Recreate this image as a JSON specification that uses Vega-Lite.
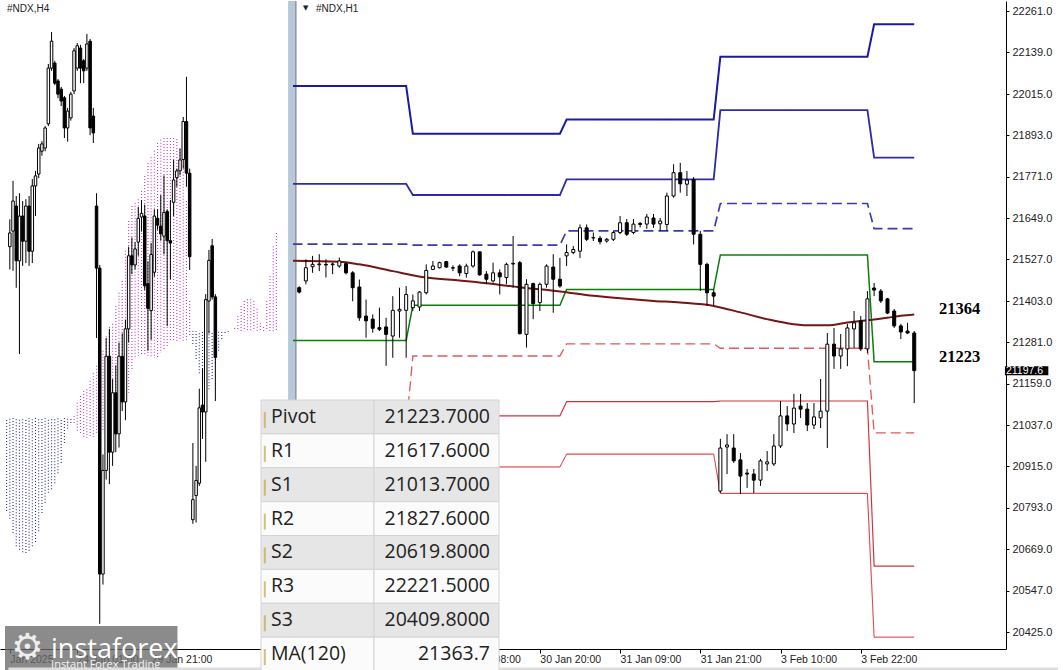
{
  "$schema": "https://vega.github.io/schema/vega-lite/v6.json",
  "padding": 0,
  "background": "white",
  "spacing": 10,
  "bounds": "flush",
  "config": {"view": {"stroke": null}, "axis": {"grid": false, "title": null}},
  "datasets": {
    "h4": [
      {"s":0,"o":21440,"h":21500,"l":21390,"c":21470},
      {"s":1,"o":21474,"h":21584,"l":21387,"c":21540},
      {"s":2,"o":21529,"h":21551,"l":21350,"c":21409},
      {"s":3,"o":21409,"h":21557,"l":21205,"c":21507},
      {"s":4,"o":21507,"h":21540,"l":21398,"c":21452},
      {"s":5,"o":21452,"h":21544,"l":21404,"c":21529},
      {"s":6,"o":21529,"h":21551,"l":21398,"c":21430},
      {"s":7,"o":21430,"h":21588,"l":21404,"c":21573},
      {"s":8,"o":21573,"h":21606,"l":21507,"c":21595},
      {"s":9,"o":21599,"h":21665,"l":21590,"c":21656},
      {"s":10,"o":21649,"h":21671,"l":21639,"c":21665},
      {"s":11,"o":21656,"h":21704,"l":21649,"c":21700},
      {"s":12,"o":21709,"h":21840,"l":21704,"c":21831},
      {"s":13,"o":21831,"h":21910,"l":21825,"c":21890},
      {"s":14,"o":21842,"h":21847,"l":21794,"c":21798},
      {"s":15,"o":21803,"h":21807,"l":21765,"c":21774},
      {"s":16,"o":21785,"h":21790,"l":21748,"c":21759},
      {"s":17,"o":21766,"h":21770,"l":21678,"c":21700},
      {"s":18,"o":21700,"h":21744,"l":21670,"c":21737},
      {"s":19,"o":21722,"h":21779,"l":21716,"c":21774},
      {"s":20,"o":21781,"h":21875,"l":21774,"c":21869},
      {"s":21,"o":21831,"h":21886,"l":21825,"c":21880},
      {"s":22,"o":21875,"h":21882,"l":21798,"c":21831},
      {"s":23,"o":21847,"h":21851,"l":21798,"c":21825},
      {"s":24,"o":21831,"h":21906,"l":21825,"c":21884},
      {"s":25,"o":21890,"h":21895,"l":21684,"c":21700},
      {"s":26,"o":21726,"h":21744,"l":21667,"c":21689},
      {"s":27,"o":21529,"h":21557,"l":21240,"c":21393},
      {"s":28,"o":21393,"h":21400,"l":20614,"c":20723},
      {"s":29,"o":20723,"h":20985,"l":20700,"c":20950},
      {"s":30,"o":20950,"h":21240,"l":20930,"c":21200},
      {"s":31,"o":21200,"h":21260,"l":20920,"c":20990},
      {"s":32,"o":20990,"h":21150,"l":20960,"c":21120},
      {"s":33,"o":21120,"h":21180,"l":20990,"c":21030},
      {"s":34,"o":21030,"h":21230,"l":21000,"c":21200},
      {"s":35,"o":21200,"h":21250,"l":21080,"c":21100},
      {"s":36,"o":21100,"h":21280,"l":21060,"c":21260},
      {"s":37,"o":21260,"h":21440,"l":21230,"c":21420},
      {"s":38,"o":21420,"h":21460,"l":21380,"c":21400},
      {"s":39,"o":21400,"h":21450,"l":21390,"c":21435},
      {"s":40,"o":21450,"h":21527,"l":21420,"c":21502},
      {"s":41,"o":21505,"h":21542,"l":21473,"c":21513},
      {"s":42,"o":21507,"h":21532,"l":21345,"c":21354},
      {"s":43,"o":21359,"h":21408,"l":21212,"c":21305},
      {"s":44,"o":21300,"h":21448,"l":21236,"c":21423},
      {"s":45,"o":21384,"h":21522,"l":21374,"c":21507},
      {"s":46,"o":21502,"h":21522,"l":21477,"c":21487},
      {"s":47,"o":21485,"h":21553,"l":21453,"c":21468},
      {"s":48,"o":21463,"h":21596,"l":21423,"c":21515},
      {"s":49,"o":21517,"h":21522,"l":21266,"c":21453},
      {"s":50,"o":21453,"h":21542,"l":21369,"c":21448},
      {"s":51,"o":21537,"h":21630,"l":21507,"c":21586},
      {"s":52,"o":21591,"h":21611,"l":21571,"c":21606},
      {"s":53,"o":21606,"h":21655,"l":21596,"c":21630},
      {"s":54,"o":21631,"h":21724,"l":21611,"c":21714},
      {"s":55,"o":21714,"h":21812,"l":21571,"c":21601},
      {"s":56,"o":21601,"h":21611,"l":21389,"c":21418},
      {"s":57,"o":20842,"h":21010,"l":20833,"c":20886},
      {"s":58,"o":20895,"h":20960,"l":20836,"c":20928},
      {"s":59,"o":20922,"h":21129,"l":20916,"c":21087},
      {"s":60,"o":21093,"h":21173,"l":21019,"c":21078},
      {"s":61,"o":21078,"h":21336,"l":20969,"c":21324},
      {"s":62,"o":21321,"h":21433,"l":21250,"c":21410},
      {"s":63,"o":21442,"h":21457,"l":21324,"c":21330},
      {"s":64,"o":21330,"h":21336,"l":21102,"c":21197.6}
    ],
    "cloud": [
      {"s":-1,"a":20861,"b":21065},{"s":0,"a":20844,"b":21065},{"s":1,"a":20813,"b":21065},{"s":2,"a":20784,"b":21065},
      {"s":3,"a":20776,"b":21065},{"s":4,"a":20771,"b":21065},{"s":5,"a":20769,"b":21065},{"s":6,"a":20774,"b":21065},
      {"s":7,"a":20784,"b":21065},{"s":8,"a":20793,"b":21065},{"s":9,"a":20817,"b":21065},{"s":10,"a":20857,"b":21065},
      {"s":11,"a":20879,"b":21065},{"s":12,"a":20901,"b":21065},{"s":13,"a":20909,"b":21065},{"s":14,"a":20922,"b":21065},
      {"s":15,"a":20944,"b":21065},{"s":16,"a":20966,"b":21065},{"s":17,"a":21010,"b":21065},{"s":18,"a":21041,"b":21065},
      {"s":19,"a":21054,"b":21063},{"s":20,"a":21069,"b":21054},{"s":21,"a":21098,"b":21036},{"s":22,"a":21113,"b":21028},
      {"s":23,"a":21124,"b":21021},{"s":24,"a":21128,"b":21021},{"s":25,"a":21146,"b":21021},{"s":26,"a":21163,"b":21023},
      {"s":27,"a":21179,"b":21028},{"s":28,"a":21194,"b":21030},{"s":29,"a":21212,"b":21036},{"s":30,"a":21244,"b":21041},
      {"s":31,"a":21264,"b":21047},{"s":32,"a":21271,"b":21058},{"s":33,"a":21310,"b":21076},{"s":34,"a":21339,"b":21098},
      {"s":35,"a":21365,"b":21102},{"s":36,"a":21431,"b":21113},{"s":37,"a":21496,"b":21120},{"s":38,"a":21529,"b":21168},
      {"s":39,"a":21536,"b":21194},{"s":40,"a":21544,"b":21201},{"s":41,"a":21562,"b":21205},{"s":42,"a":21595,"b":21205},
      {"s":43,"a":21623,"b":21201},{"s":44,"a":21636,"b":21198},{"s":45,"a":21650,"b":21196},{"s":46,"a":21667,"b":21196},
      {"s":47,"a":21674,"b":21207},{"s":48,"a":21678,"b":21216},{"s":49,"a":21678,"b":21222},{"s":50,"a":21678,"b":21231},
      {"s":51,"a":21678,"b":21233},{"s":52,"a":21676,"b":21233},{"s":53,"a":21654,"b":21233},{"s":54,"a":21617,"b":21233},
      {"s":55,"a":21540,"b":21236},{"s":56,"a":21321,"b":21244},{"s":57,"a":21227,"b":21255},{"s":58,"a":21194,"b":21255},
      {"s":59,"a":21163,"b":21255},{"s":60,"a":21139,"b":21255},{"s":61,"a":21126,"b":21255},{"s":62,"a":21128,"b":21255},
      {"s":63,"a":21150,"b":21255},{"s":64,"a":21185,"b":21255},{"s":65,"a":21212,"b":21255},{"s":66,"a":21238,"b":21255},
      {"s":67,"a":21251,"b":21255},{"s":68,"a":21253,"b":21255},{"s":69,"a":21255,"b":21255},{"s":70,"a":21262,"b":21255},
      {"s":71,"a":21288,"b":21255},{"s":72,"a":21310,"b":21255},{"s":73,"a":21321,"b":21255},{"s":74,"a":21325,"b":21255},
      {"s":75,"a":21325,"b":21255},{"s":76,"a":21321,"b":21255},{"s":77,"a":21304,"b":21255},{"s":78,"a":21273,"b":21255},
      {"s":79,"a":21264,"b":21255},{"s":80,"a":21321,"b":21255},{"s":81,"a":21376,"b":21255},{"s":82,"a":21441,"b":21255},
      {"s":83,"a":21470,"b":21255}
    ],
    "h1": [
      {"t":-17,"o":21443,"h":21447,"l":21426,"c":21430},
      {"t":-16,"o":21463,"h":21527,"l":21453,"c":21502},
      {"t":-15,"o":21505,"h":21537,"l":21487,"c":21512},
      {"t":-14,"o":21511,"h":21542,"l":21492,"c":21513},
      {"t":-13,"o":21512,"h":21527,"l":21473,"c":21510},
      {"t":-12,"o":21511,"h":21517,"l":21483,"c":21513},
      {"t":-11,"o":21507,"h":21532,"l":21502,"c":21522},
      {"t":-10,"o":21514,"h":21517,"l":21482,"c":21487},
      {"t":-9,"o":21487,"h":21492,"l":21403,"c":21443},
      {"t":-8,"o":21445,"h":21467,"l":21345,"c":21354},
      {"t":-7,"o":21359,"h":21408,"l":21295,"c":21345},
      {"t":-6,"o":21350,"h":21364,"l":21310,"c":21323},
      {"t":-5,"o":21325,"h":21384,"l":21315,"c":21320},
      {"t":-4,"o":21327,"h":21354,"l":21212,"c":21305},
      {"t":-3,"o":21300,"h":21418,"l":21236,"c":21376},
      {"t":-2,"o":21374,"h":21443,"l":21295,"c":21379},
      {"t":-1,"o":21376,"h":21448,"l":21236,"c":21423},
      {"t":0,"o":21384,"h":21423,"l":21374,"c":21404},
      {"t":1,"o":21386,"h":21433,"l":21374,"c":21430},
      {"t":2,"o":21428,"h":21512,"l":21423,"c":21494},
      {"t":3,"o":21497,"h":21522,"l":21495,"c":21507},
      {"t":4,"o":21502,"h":21520,"l":21500,"c":21517},
      {"t":5,"o":21520,"h":21522,"l":21502,"c":21504},
      {"t":6,"o":21502,"h":21509,"l":21492,"c":21501},
      {"t":7,"o":21507,"h":21512,"l":21477,"c":21487},
      {"t":8,"o":21485,"h":21514,"l":21473,"c":21507},
      {"t":9,"o":21507,"h":21553,"l":21502,"c":21549},
      {"t":10,"o":21549,"h":21549,"l":21478,"c":21481},
      {"t":11,"o":21483,"h":21492,"l":21453,"c":21468},
      {"t":12,"o":21463,"h":21517,"l":21458,"c":21487},
      {"t":13,"o":21487,"h":21497,"l":21423,"c":21475},
      {"t":14,"o":21473,"h":21517,"l":21453,"c":21512},
      {"t":15,"o":21513,"h":21596,"l":21443,"c":21515},
      {"t":16,"o":21517,"h":21522,"l":21305,"c":21307},
      {"t":17,"o":21305,"h":21468,"l":21266,"c":21453},
      {"t":18,"o":21455,"h":21458,"l":21350,"c":21396},
      {"t":19,"o":21399,"h":21458,"l":21374,"c":21453},
      {"t":20,"o":21453,"h":21512,"l":21443,"c":21507},
      {"t":21,"o":21504,"h":21542,"l":21369,"c":21468},
      {"t":22,"o":21468,"h":21531,"l":21443,"c":21448},
      {"t":23,"o":21537,"h":21571,"l":21507,"c":21547},
      {"t":24,"o":21547,"h":21566,"l":21542,"c":21556},
      {"t":25,"o":21551,"h":21630,"l":21531,"c":21620},
      {"t":26,"o":21620,"h":21630,"l":21581,"c":21586},
      {"t":27,"o":21591,"h":21606,"l":21581,"c":21590},
      {"t":28,"o":21589,"h":21596,"l":21571,"c":21579},
      {"t":29,"o":21581,"h":21590,"l":21576,"c":21586},
      {"t":30,"o":21586,"h":21611,"l":21581,"c":21606},
      {"t":31,"o":21606,"h":21655,"l":21601,"c":21635},
      {"t":32,"o":21635,"h":21646,"l":21596,"c":21601},
      {"t":33,"o":21606,"h":21646,"l":21601,"c":21631},
      {"t":34,"o":21633,"h":21637,"l":21621,"c":21630},
      {"t":35,"o":21631,"h":21661,"l":21617,"c":21652},
      {"t":36,"o":21649,"h":21661,"l":21620,"c":21631},
      {"t":37,"o":21632,"h":21649,"l":21611,"c":21640},
      {"t":38,"o":21630,"h":21724,"l":21611,"c":21714},
      {"t":39,"o":21714,"h":21808,"l":21709,"c":21783},
      {"t":40,"o":21783,"h":21812,"l":21724,"c":21750},
      {"t":41,"o":21749,"h":21788,"l":21714,"c":21761},
      {"t":42,"o":21763,"h":21770,"l":21571,"c":21601},
      {"t":43,"o":21601,"h":21611,"l":21433,"c":21512},
      {"t":44,"o":21512,"h":21517,"l":21389,"c":21428},
      {"t":45,"o":21428,"h":21438,"l":21389,"c":21418},
      {"t":46,"o":20842,"h":20996,"l":20836,"c":20969},
      {"t":47,"o":20972,"h":21010,"l":20892,"c":20978},
      {"t":48,"o":20969,"h":21010,"l":20925,"c":20931},
      {"t":49,"o":20934,"h":20954,"l":20833,"c":20886},
      {"t":50,"o":20895,"h":20907,"l":20851,"c":20892},
      {"t":51,"o":20892,"h":20907,"l":20836,"c":20874},
      {"t":52,"o":20874,"h":20937,"l":20857,"c":20931},
      {"t":53,"o":20922,"h":20960,"l":20901,"c":20928},
      {"t":54,"o":20922,"h":21010,"l":20916,"c":20975},
      {"t":55,"o":20975,"h":21108,"l":20969,"c":21064},
      {"t":56,"o":21064,"h":21093,"l":21019,"c":21040},
      {"t":57,"o":21040,"h":21129,"l":21013,"c":21087},
      {"t":58,"o":21093,"h":21129,"l":21058,"c":21084},
      {"t":59,"o":21084,"h":21102,"l":21019,"c":21037},
      {"t":60,"o":21037,"h":21102,"l":21025,"c":21061},
      {"t":61,"o":21058,"h":21173,"l":21028,"c":21078},
      {"t":62,"o":21078,"h":21309,"l":20969,"c":21276},
      {"t":63,"o":21276,"h":21324,"l":21203,"c":21241},
      {"t":64,"o":21241,"h":21306,"l":21203,"c":21262},
      {"t":65,"o":21262,"h":21336,"l":21211,"c":21324},
      {"t":66,"o":21321,"h":21374,"l":21265,"c":21339},
      {"t":67,"o":21345,"h":21359,"l":21256,"c":21262},
      {"t":68,"o":21262,"h":21433,"l":21250,"c":21410},
      {"t":69,"o":21442,"h":21457,"l":21418,"c":21436},
      {"t":70,"o":21433,"h":21439,"l":21398,"c":21404},
      {"t":71,"o":21410,"h":21413,"l":21365,"c":21368},
      {"t":72,"o":21374,"h":21380,"l":21324,"c":21330},
      {"t":73,"o":21330,"h":21336,"l":21291,"c":21312},
      {"t":74,"o":21315,"h":21339,"l":21306,"c":21309},
      {"t":75,"o":21309,"h":21315,"l":21102,"c":21197.6}
    ],
    "levels": [
      {"lvl":"R3","a":-18,"b":-1,"v":22039},{"lvl":"R3","a":0,"b":22,"v":21898},{"lvl":"R3","a":23,"b":45,"v":21940},{"lvl":"R3","a":46,"b":68,"v":22126},{"lvl":"R3","a":69,"b":75,"v":22221.5},
      {"lvl":"R2","a":-18,"b":-1,"v":21750},{"lvl":"R2","a":0,"b":22,"v":21717},{"lvl":"R2","a":23,"b":45,"v":21763},{"lvl":"R2","a":46,"b":68,"v":21968},{"lvl":"R2","a":69,"b":75,"v":21827.6},
      {"lvl":"R1","a":-18,"b":-1,"v":21572},{"lvl":"R1","a":0,"b":22,"v":21569},{"lvl":"R1","a":23,"b":45,"v":21611},{"lvl":"R1","a":46,"b":68,"v":21692},{"lvl":"R1","a":69,"b":75,"v":21617.6},
      {"lvl":"P","a":-18,"b":-1,"v":21287},{"lvl":"P","a":0,"b":22,"v":21391},{"lvl":"P","a":23,"b":45,"v":21438},{"lvl":"P","a":46,"b":68,"v":21540},{"lvl":"P","a":69,"b":75,"v":21223.7},
      {"lvl":"S1","a":-18,"b":-1,"v":21030},{"lvl":"S1","a":0,"b":22,"v":21241},{"lvl":"S1","a":23,"b":45,"v":21277},{"lvl":"S1","a":46,"b":68,"v":21264},{"lvl":"S1","a":69,"b":75,"v":21013.7},
      {"lvl":"S2","a":-18,"b":-1,"v":20870},{"lvl":"S2","a":0,"b":22,"v":21064},{"lvl":"S2","a":23,"b":45,"v":21106},{"lvl":"S2","a":46,"b":68,"v":21108},{"lvl":"S2","a":69,"b":75,"v":20619.8},
      {"lvl":"S3","a":-18,"b":-1,"v":20700},{"lvl":"S3","a":0,"b":22,"v":20913},{"lvl":"S3","a":23,"b":45,"v":20951},{"lvl":"S3","a":46,"b":68,"v":20835},{"lvl":"S3","a":69,"b":75,"v":20409.8}
    ],
    "ma": [
      {"t":-18,"v":21523},{"t":-11,"v":21520},{"t":-8,"v":21512},{"t":-3,"v":21492},{"t":2,"v":21473},
      {"t":7,"v":21464},{"t":12,"v":21454},{"t":16,"v":21444},{"t":22,"v":21432},{"t":27,"v":21419},
      {"t":32,"v":21410},{"t":36,"v":21404},{"t":40,"v":21399},{"t":45,"v":21389},{"t":49,"v":21370},
      {"t":53,"v":21350},{"t":56,"v":21338},{"t":59,"v":21332},{"t":62,"v":21332},{"t":65,"v":21340},
      {"t":68,"v":21347},{"t":71,"v":21354},{"t":73,"v":21360},{"t":75,"v":21364}
    ],
    "table": [
      {"name":"Pivot","val":"21223.7000"},
      {"name":"R1","val":"21617.6000"},
      {"name":"S1","val":"21013.7000"},
      {"name":"R2","val":"21827.6000"},
      {"name":"S2","val":"20619.8000"},
      {"name":"R3","val":"22221.5000"},
      {"name":"S3","val":"20409.8000"},
      {"name":"MA(120)","val":"21363.7"}
    ]
  },
  "hconcat": [
    {
      "width": 283,
      "height": 648,
      "layer": [
        {
          "data": {"name": "cloud"},
          "mark": {"type": "rule", "strokeDash": [1, 2], "strokeWidth": 1.1, "clip": true},
          "encoding": {
            "x": {"field": "s", "type": "quantitative",
              "scale": {"domain": [-1.5, 83.5], "nice": false, "zero": false},
              "axis": {"values": [0, 21, 44], "labelExpr": "datum.value == 0 ? 'Jan 2025' : datum.value == 21 ? '24 Jan 01:00' : '29 Jan 21:00'",
                "labelAlign": "left", "labelFlush": false, "labelOverlap": false, "tickSize": 4, "labelPadding": 1,
                "labelFont": "Liberation Sans", "labelFontSize": 10.5, "labelColor": "#222", "domainColor": "#000", "tickColor": "#000"}},
            "y": {"field": "a", "type": "quantitative", "scale": {"domain": [20558.9, 21978], "nice": false, "zero": false}, "axis": null},
            "y2": {"field": "b"},
            "color": {"condition": {"test": "datum.a > datum.b", "value": "#c43cc8"}, "value": "#2c2ca0"}
          }
        },
        {
          "data": {"name": "h4"},
          "mark": {"type": "rule", "color": "#000", "strokeWidth": 1, "clip": true},
          "encoding": {
            "x": {"field": "s", "type": "quantitative"},
            "y": {"field": "l", "type": "quantitative"},
            "y2": {"field": "h"}
          }
        },
        {
          "data": {"name": "h4"},
          "mark": {"type": "bar", "size": 2.5, "stroke": "#000", "strokeWidth": 1, "clip": true},
          "encoding": {
            "x": {"field": "s", "type": "quantitative"},
            "y": {"field": "o", "type": "quantitative"},
            "y2": {"field": "c"},
            "fill": {"condition": {"test": "datum.c < datum.o", "value": "#000"}, "value": "#fff"}
          }
        },
        {
          "data": {"values": [{}]},
          "mark": {"type": "text", "align": "left", "baseline": "middle", "dx": 2, "dy": 8, "font": "Liberation Sans", "fontSize": 10, "fill": "#222"},
          "encoding": {"x": {"datum": -1.5, "type": "quantitative"}, "y": {"datum": 21978, "type": "quantitative"}, "text": {"value": "#NDX,H4"}}
        },
        {
          "data": {"values": [{}]},
          "mark": {"type": "rect", "fill": "#6a6a6a", "opacity": 0.78},
          "encoding": {"x": {"datum": -1.5, "type": "quantitative"}, "x2": {"datum": 52.2}, "y": {"datum": 20609, "type": "quantitative"}, "y2": {"datum": 20505}}
        },
        {
          "data": {"values": [{}]},
          "mark": {"type": "text", "align": "center", "baseline": "middle", "font": "DejaVu Sans", "fontSize": 36, "fill": "#eeeeee"},
          "encoding": {"x": {"datum": 5.5, "type": "quantitative"}, "y": {"datum": 20561, "type": "quantitative"}, "text": {"value": "⚙"}}
        },
        {
          "data": {"values": [{}]},
          "mark": {"type": "text", "align": "left", "baseline": "alphabetic", "font": "Open Sans", "fontSize": 27, "fill": "#ffffff"},
          "encoding": {"x": {"datum": 12.84, "type": "quantitative"}, "y": {"datum": 20539, "type": "quantitative"}, "text": {"value": "instaforex"}}
        },
        {
          "data": {"values": [{}]},
          "mark": {"type": "text", "align": "left", "baseline": "alphabetic", "font": "Open Sans", "fontSize": 11, "fill": "#f4f4f4"},
          "encoding": {"x": {"datum": 12.84, "type": "quantitative"}, "y": {"datum": 20517, "type": "quantitative"}, "text": {"value": "Instant Forex Trading"}}
        }
      ]
    },
    {
      "width": 713,
      "height": 648,
      "resolve": {"scale": {"x": "independent", "y": "independent", "fill": "independent", "color": "independent"}},
      "layer": [
        {
          "layer": [
            {
              "data": {"values": [{}]},
              "mark": {"type": "rect", "fill": "#b6c8da"},
              "encoding": {"x": {"datum": -18.66, "type": "quantitative"}, "x2": {"datum": -17.6}, "y": {"datum": 22290.6, "type": "quantitative"}, "y2": {"datum": 20374.8}}
            },
            {
              "data": {"values": [{}]},
              "mark": {"type": "rule", "color": "#6f7a86", "strokeWidth": 1.2},
              "encoding": {"x": {"datum": -17.5, "type": "quantitative"}, "y": {"datum": 22290.6, "type": "quantitative"}, "y2": {"datum": 20374.8}}
            },
            {
              "data": {"values": [{}]},
              "mark": {"type": "rect", "fill": "#dedede"},
              "encoding": {"x": {"datum": -60.5, "type": "quantitative"}, "x2": {"datum": 96.5}, "y": {"datum": 20320, "type": "quantitative"}, "y2": {"datum": 20300}}
            },
            {
              "data": {"name": "levels"},
              "transform": [{"fold": ["a", "b"], "as": ["edge", "t"]}],
              "mark": {"type": "line", "clip": true},
              "encoding": {
                "x": {"field": "t", "type": "quantitative",
                  "scale": {"domain": [-17.18, 87.98], "nice": false, "zero": false},
                  "axis": {"values": [-4, 7, 19, 31, 43, 55, 67],
                    "labelExpr": "datum.value == -4 ? '29 Jan 20:00' : datum.value == 7 ? '30 Jan 08:00' : datum.value == 19 ? '30 Jan 20:00' : datum.value == 31 ? '31 Jan 09:00' : datum.value == 43 ? '31 Jan 21:00' : datum.value == 55 ? '3 Feb 10:00' : '3 Feb 22:00'",
                    "labelAlign": "left", "labelFlush": false, "labelOverlap": false, "tickSize": 4, "labelPadding": 1,
                    "labelFont": "Liberation Sans", "labelFontSize": 10.5, "labelColor": "#222", "domainColor": "#000", "tickColor": "#000"}},
                "y": {"field": "v", "type": "quantitative",
                  "scale": {"domain": [20374.8, 22290.6], "nice": false, "zero": false},
                  "axis": {"orient": "right", "values": [22261, 22139, 22015, 21893, 21771, 21649, 21527, 21403, 21281, 21159, 21037, 20915, 20793, 20669, 20547, 20425],
                    "format": ".1f", "labelOverlap": false, "labelFlush": false, "tickSize": 3, "labelPadding": 3,
                    "labelFont": "Liberation Sans", "labelFontSize": 11, "labelColor": "#222", "domainColor": "#000", "tickColor": "#000"}},
                "detail": {"field": "lvl"},
                "order": {"field": "t", "type": "quantitative"},
                "color": {"field": "lvl", "type": "nominal", "legend": null,
                  "scale": {"domain": ["R3", "R2", "R1", "P", "S1", "S2", "S3"], "range": ["#1a1aa6", "#2c2caa", "#3a3ab4", "#0b7d0b", "#e05a5a", "#d0303c", "#e3161c"]}},
                "strokeWidth": {"field": "lvl", "type": "nominal", "legend": null,
                  "scale": {"domain": ["R3", "R2", "R1", "P", "S1", "S2", "S3"], "range": [2, 1, 1, 1.6, 1, 1, 2]}},
                "strokeDash": {"field": "lvl", "type": "nominal", "legend": null,
                  "scale": {"domain": ["R3", "R2", "R1", "P", "S1", "S2", "S3"], "range": [[1, 0], [1, 0], [10, 5], [1, 0], [10, 5], [1, 0], [1, 0]]}}
              }
            },
            {
              "data": {"name": "ma"},
              "mark": {"type": "line", "color": "#761515", "strokeWidth": 2, "interpolate": "monotone", "clip": true},
              "encoding": {"x": {"field": "t", "type": "quantitative"}, "y": {"field": "v", "type": "quantitative"}}
            },
            {
              "data": {"name": "h1"},
              "mark": {"type": "rule", "color": "#000", "strokeWidth": 1, "clip": true},
              "encoding": {"x": {"field": "t", "type": "quantitative"}, "y": {"field": "l", "type": "quantitative"}, "y2": {"field": "h"}}
            },
            {
              "data": {"name": "h1"},
              "mark": {"type": "bar", "size": 3, "stroke": "#000", "strokeWidth": 1, "clip": true},
              "encoding": {
                "x": {"field": "t", "type": "quantitative"},
                "y": {"field": "o", "type": "quantitative"},
                "y2": {"field": "c"},
                "fill": {"condition": {"test": "datum.c < datum.o", "value": "#000"}, "value": "#fff"}
              }
            },
            {
              "data": {"values": [{"label": "21364", "v": 21364}, {"label": "21223", "v": 21223.7}]},
              "mark": {"type": "text", "align": "left", "baseline": "middle", "font": "Liberation Serif", "fontWeight": "bold", "fontSize": 16.5, "fill": "#000", "dy": -5},
              "encoding": {"x": {"datum": 78.7, "type": "quantitative"}, "y": {"field": "v", "type": "quantitative"}, "text": {"field": "label"}}
            },
            {
              "data": {"values": [{}]},
              "mark": {"type": "rect", "fill": "#000"},
              "encoding": {"x": {"datum": 88.57, "type": "quantitative"}, "x2": {"datum": 95.06}, "y": {"datum": 21184, "type": "quantitative"}, "y2": {"datum": 21211}}
            },
            {
              "data": {"values": [{}]},
              "mark": {"type": "text", "align": "left", "baseline": "middle", "font": "Liberation Sans", "fontSize": 10.5, "fill": "#fff", "dx": 1},
              "encoding": {"x": {"datum": 88.57, "type": "quantitative"}, "y": {"datum": 21197.6, "type": "quantitative"}, "text": {"value": "21197.6"}}
            },
            {
              "data": {"values": [{}]},
              "mark": {"type": "text", "align": "left", "baseline": "middle", "font": "DejaVu Sans", "fontSize": 7, "fill": "#222", "dx": 5, "dy": 7},
              "encoding": {"x": {"datum": -17.18, "type": "quantitative"}, "y": {"datum": 22290.6, "type": "quantitative"}, "text": {"value": "▼"}}
            },
            {
              "data": {"values": [{}]},
              "mark": {"type": "text", "align": "left", "baseline": "middle", "font": "Liberation Sans", "fontSize": 10, "fill": "#222", "dx": 18, "dy": 8},
              "encoding": {"x": {"datum": -17.18, "type": "quantitative"}, "y": {"datum": 22290.6, "type": "quantitative"}, "text": {"value": "#NDX,H1"}}
            }
          ]
        },
        {
          "data": {"name": "table"},
          "layer": [
            {
              "mark": {"type": "rect", "stroke": "#d4d4d4", "strokeWidth": 1},
              "encoding": {
                "x": {"datum": 0, "type": "quantitative", "scale": {"domain": [0, 1], "range": [-32, 206], "nice": false, "zero": false}, "axis": null},
                "x2": {"datum": 0.4748},
                "y": {"field": "name", "type": "nominal", "sort": null, "axis": null,
                  "scale": {"domain": ["Pivot", "R1", "S1", "R2", "S2", "R3", "S3", "MA(120)"], "range": [399, 670], "paddingInner": 0, "paddingOuter": 0}},
                "fill": {"field": "name", "type": "nominal", "legend": null,
                  "scale": {"domain": ["Pivot", "R1", "S1", "R2", "S2", "R3", "S3", "MA(120)"], "range": ["#e6e6e6", "#fbfbfb", "#e6e6e6", "#fbfbfb", "#e6e6e6", "#fbfbfb", "#e6e6e6", "#fbfbfb"]}}
              }
            },
            {
              "mark": {"type": "rect", "stroke": "#d4d4d4", "strokeWidth": 1},
              "encoding": {
                "x": {"datum": 0.4748, "type": "quantitative"},
                "x2": {"datum": 1},
                "y": {"field": "name", "type": "nominal", "sort": null},
                "fill": {"field": "name", "type": "nominal", "legend": null}
              }
            },
            {
              "mark": {"type": "tick", "orient": "vertical", "color": "#c4a444", "thickness": 2, "size": 16, "yOffset": 3},
              "encoding": {"x": {"datum": 0.016, "type": "quantitative"}, "y": {"field": "name", "type": "nominal", "sort": null}}
            },
            {
              "mark": {"type": "text", "align": "left", "baseline": "middle", "font": "Open Sans", "fontSize": 19.5, "fill": "#222", "dx": 10},
              "encoding": {"x": {"datum": 0, "type": "quantitative"}, "y": {"field": "name", "type": "nominal", "sort": null}, "text": {"field": "name"}}
            },
            {
              "mark": {"type": "text", "align": "right", "baseline": "middle", "font": "Open Sans", "fontSize": 19.5, "fill": "#222", "dx": -9},
              "encoding": {"x": {"datum": 1, "type": "quantitative"}, "y": {"field": "name", "type": "nominal", "sort": null}, "text": {"field": "val"}}
            }
          ]
        }
      ]
    }
  ]
}
